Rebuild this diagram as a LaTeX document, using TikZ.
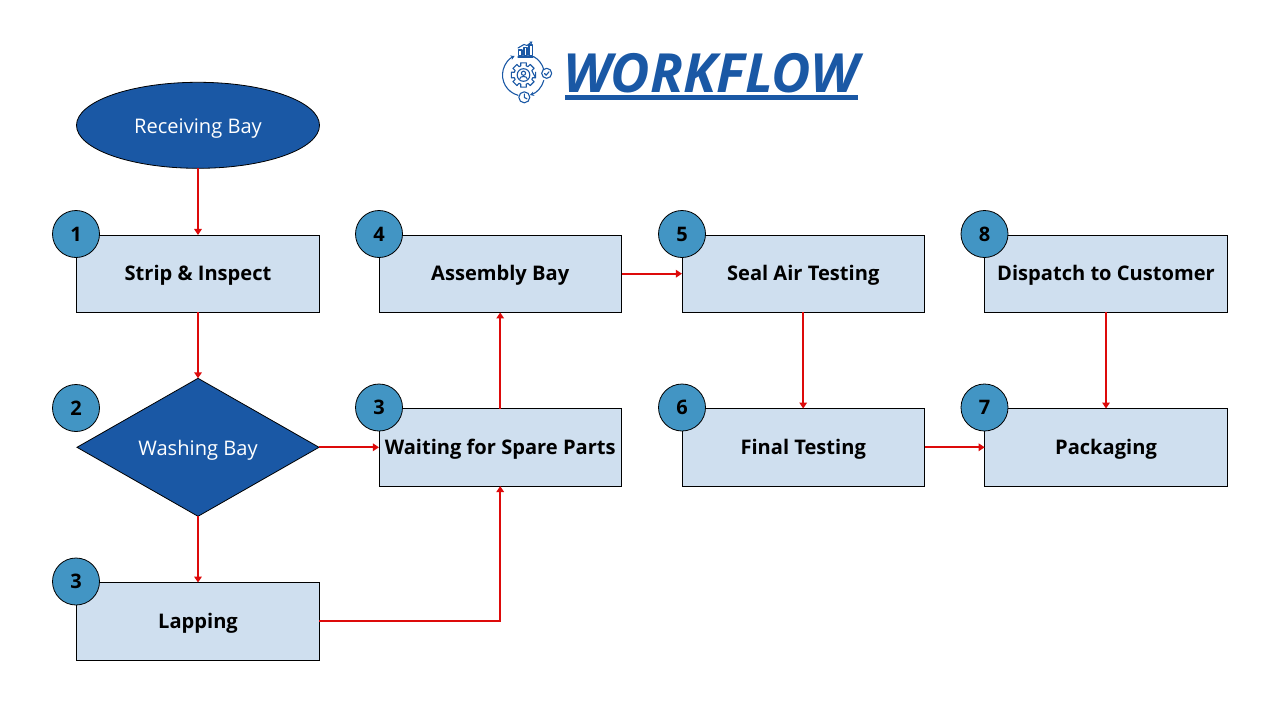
\documentclass[tikz,border=0pt]{standalone}
\usepackage{fontspec}
\setmainfont{Open Sans}
\usetikzlibrary{shapes.geometric,arrows.meta,calc}
\definecolor{navy}{HTML}{1A58A5}
\definecolor{boxfill}{HTML}{CFDFEF}
\definecolor{badgefill}{HTML}{4295C4}
\definecolor{flowred}{HTML}{DD0A0A}
\tikzset{
 px/.style={x=1pt,y=-1pt},
 labeltext/.style={text height=17.6pt,text depth=3.8pt},
 darktext/.style={text height=20.8pt,text depth=3.8pt,text=white,font=\fontsize{20.1}{22}\selectfont},
 stepbox/.style={draw=black,line width=.8pt,fill=boxfill,minimum width=242.6pt,minimum height=77.5pt,inner sep=0pt,outer sep=0pt,labeltext,font=\fontsize{20.1}{22}\selectfont\bfseries,text=black},
 badge/.style={circle,draw=black,line width=.8pt,fill=badgefill,minimum size=47pt,inner sep=0pt,font=\fontsize{20}{22}\selectfont\bfseries,text=black},
 flow/.style={draw=flowred,line width=1.9pt,-{Triangle[length=6pt,width=7.5pt]}},
 iconline/.style={draw=navy,line width=1.1pt,line cap=round,line join=round},
}
\begin{document}
\begin{tikzpicture}[px]
\useasboundingbox (0,0) rectangle (1280,720);
% title
\node[anchor=west,inner sep=0pt,text=navy,font=\fontsize{54}{60}\selectfont\bfseries\itshape] (title) at (563,73) {WORKFLOW};
\fill[navy] (564.5,94.5) rectangle (858,99.5);
% icon
\begin{scope}[iconline]
 \begin{scope}[shift={(523.5,75)}]
  \draw (13:12.5) \foreach \a in {0,45,...,315}{ -- (\a-13:12.5) -- (\a+13:12.5) -- (\a+17:9.5) -- (\a+28:9.5) } -- cycle;
  \draw (0,0) circle (6.3);
  \draw (0,-1.8) circle (2.1);
  \draw (-3.6,3.6) .. controls (-3.4,0.8) and (3.4,0.8) .. (3.6,3.6);
  \draw[-{Stealth[length=4pt,width=4.5pt]}] (105:21) arc[start angle=105,end angle=245,radius=21];
  \draw[-{Stealth[length=4pt,width=4.5pt]}] (15:21) arc[start angle=15,end angle=72,radius=21];
  \draw (298:21) arc[start angle=298,end angle=345,radius=21];
 \end{scope}
 \draw (546.7,73.3) circle (5);
 \draw (544.5,73.5) -- (546.2,75.2) -- (549,71.8);
 \draw (524.3,97.3) circle (5.5);
 \draw (524.3,94) -- (524.3,97.5) -- (527,98.8);
 \draw (518,57) -- (533,57);
 \draw (518.5,55.5) rectangle (522,50);
 \draw (524,55.5) rectangle (527,47.5);
 \draw (529,55.5) rectangle (532.5,45);
 \draw[-{Stealth[length=3pt,width=3.5pt]}] (518,48) -- (524,44.5) -- (527,45.5) -- (532.5,41.5);
\end{scope}
% nodes
\node[ellipse,draw=black,line width=.8pt,fill=navy,minimum width=243pt,minimum height=86pt,inner sep=0pt,outer sep=0pt,darktext] (recv) at (198,125.3) {Receiving Bay};
\node[stepbox] (strip) at (198,273.7) {Strip \& Inspect};
\node[diamond,aspect=1.75,draw=black,line width=.8pt,fill=navy,minimum width=242pt,minimum height=138pt,inner sep=0pt,outer sep=0pt,darktext] (wash) at (198,447.3) {Washing Bay};
\node[stepbox] (lap) at (198,621.3) {Lapping};
\node[stepbox] (wait) at (500.2,447.3) {Waiting for Spare Parts};
\node[stepbox] (asm) at (500.2,273.7) {Assembly Bay};
\node[stepbox] (seal) at (803.2,273.7) {Seal Air Testing};
\node[stepbox] (final) at (803.2,447.3) {Final Testing};
\node[stepbox] (disp) at (1106,273.7) {Dispatch to Customer};
\node[stepbox] (pack) at (1106,447.3) {Packaging};
% connectors
\draw[flow] (recv) -- (strip);
\draw[flow] (strip) -- (wash);
\draw[flow] (wash) -- (lap);
\draw[flow] (wash.east) -- (wait.west);
\draw[flow] (lap.east) -| (wait.south);
\draw[flow] (wait) -- (asm);
\draw[flow] (asm) -- (seal);
\draw[flow] (seal) -- (final);
\draw[flow] (final) -- (pack);
\draw[flow] (disp) -- (pack);
% badges
\node[badge] (b1) at (76,234) {1};
\node[badge] (b2) at (76,408) {2};
\node[badge] (b3a) at (76,581.5) {3};
\node[badge] (b3b) at (379,407.5) {3};
\node[badge] (b4) at (379,234) {4};
\node[badge] (b5) at (682,234) {5};
\node[badge] (b6) at (682,407.5) {6};
\node[badge] (b7) at (984.5,407.5) {7};
\node[badge] (b8) at (984.5,234) {8};
\end{tikzpicture}
\end{document}
